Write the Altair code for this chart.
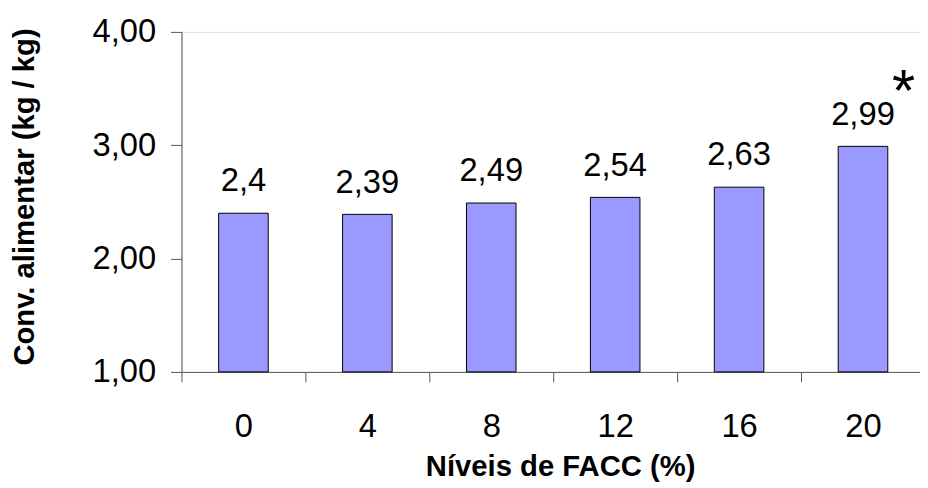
import altair as alt
import pandas as pd

niveis = ["0", "4", "8", "12", "16", "20"]
conv = [2.4, 2.39, 2.49, 2.54, 2.63, 2.99]
rotulos = ["2,4", "2,39", "2,49", "2,54", "2,63", "2,99"]
marca = ["", "", "", "", "", "*"]

df = pd.DataFrame({"nivel": niveis, "conv": conv, "rotulo": rotulos, "marca": marca})

FONT = "Liberation Sans"

x = alt.X(
    "nivel:N",
    sort=niveis,
    scale=alt.Scale(range=[0, 750], paddingInner=0, paddingOuter=0),
    axis=alt.Axis(
        title="Níveis de FACC (%)",
        labelAngle=0,
        tickBand="extent",
        tickSize=10,
        tickColor="#555555",
        domainColor="#555555",
        labelFont=FONT,
        labelFontSize=33,
        labelColor="black",
        labelPadding=29,
        titleFont=FONT,
        titleFontSize=29.5,
        titleFontWeight="bold",
        titleColor="black",
        titleBaseline="alphabetic",
        titleX=382,
        titleY=104,
        grid=False,
    ),
)

y = alt.Y(
    "conv:Q",
    scale=alt.Scale(domain=[1, 4], nice=False, zero=False),
    axis=alt.Axis(
        title="Conv. alimentar (kg / kg)",
        values=[1, 2, 3, 4],
        labelExpr="replace(format(datum.value, '.2f'), '.', ',')",
        tickSize=11,
        tickColor="#555555",
        domainColor="#555555",
        labelFont=FONT,
        labelFontSize=33,
        labelColor="black",
        labelPadding=15,
        titleFont=FONT,
        titleFontSize=29.5,
        titleFontWeight="bold",
        titleColor="black",
        titleBaseline="middle",
        titleX=-158,
        titleY=166,
        grid=False,
    ),
)

base = alt.Chart(df)

bars = base.mark_bar(size=50, color="#9999FF", stroke="black", strokeWidth=1).encode(
    x=x, y=y, y2=alt.datum(1)
)

labels = base.mark_text(
    font=FONT, fontSize=33, color="black", baseline="alphabetic", dy=-22
).encode(x=x, y=y, text="rotulo:N")

stars = base.mark_text(
    font=FONT, fontSize=60, color="black", baseline="alphabetic", dx=41, dy=-36
).encode(x=x, y=y, text="marca:N")

chart = (
    alt.layer(bars, labels, stars)
    .properties(
        width=745,
        height=343,
        autosize=alt.AutoSizeParams(type="none"),
        padding={"left": 175, "top": 22, "right": 0, "bottom": 115},
    )
    .configure_view(stroke=None)
    .configure(background="white")
)

chart.save("out.html", embed_options={"renderer": "svg", "actions": False})
